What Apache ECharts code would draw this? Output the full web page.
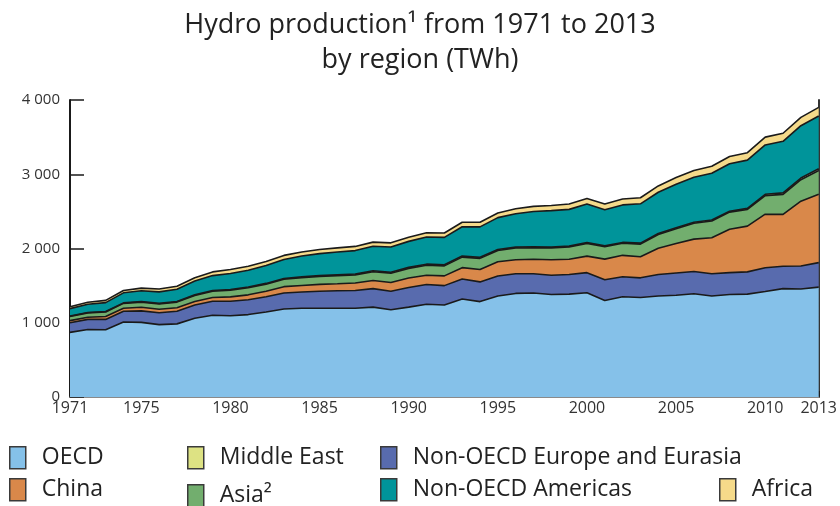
<!DOCTYPE html>
<html>
<head>
<meta charset="utf-8">
<script src="https://cdn.jsdelivr.net/npm/echarts@6/dist/echarts.min.js"></script>
<style>
  html, body { margin: 0; padding: 0; background: #fff; }
  #chart { width: 840px; height: 506px; }
</style>
</head>
<body>
<div id="chart"></div>
<script>
// years on the x axis
const years = [];
for (let y = 1971; y <= 2013; y++) years.push(String(y));
const yearLabels = ['1971', '1975', '1980', '1985', '1990', '1995', '2000', '2005', '2010', '2013'];

// TWh (stack order bottom -> top)
const oecd = [870, 910, 905, 1010, 1005, 975, 985, 1060, 1100, 1095,
  1110, 1145, 1185, 1195, 1195, 1195, 1195, 1210, 1175, 1210,
  1250, 1240, 1320, 1285, 1360, 1395, 1400, 1380, 1385, 1405,
  1300, 1350, 1340, 1360, 1370, 1390, 1360, 1380, 1385, 1420,
  1460, 1455, 1480];
const nonOecdEurope = [130, 135, 140, 145, 155, 160, 170, 180, 190, 195,
  200, 205, 215, 220, 230, 235, 240, 250, 250, 265,
  265, 260, 270, 265, 270, 265, 260, 260, 265, 270,
  280, 270, 265, 290, 300, 300, 300, 295, 300, 320,
  300, 310, 330];
const china = [29, 30, 39, 41, 48, 46, 48, 45, 50, 58,
  66, 74, 86, 87, 92, 95, 100, 109, 118, 127,
  125, 131, 152, 167, 191, 188, 196, 208, 205, 222,
  277, 288, 284, 354, 397, 436, 485, 585, 616, 722,
  699, 872, 920];
const asia = [55, 58, 60, 65, 70, 72, 75, 82, 85, 90,
  95, 95, 100, 105, 108, 110, 110, 118, 125, 130,
  135, 135, 142, 150, 152, 158, 155, 160, 165, 170,
  168, 162, 170, 185, 200, 215, 225, 230, 225, 250,
  270, 290, 320];
const middleEast = [6, 6, 7, 7, 8, 8, 9, 9, 10, 10,
  10, 11, 11, 11, 11, 12, 12, 13, 13, 14,
  14, 14, 14, 14, 13, 13, 13, 12, 12, 12,
  12, 12, 13, 13, 13, 13, 13, 12, 14, 18,
  20, 22, 25];
const nonOecdAmericas = [100, 110, 120, 135, 145, 155, 165, 185, 200, 215,
  225, 240, 255, 280, 295, 305, 315, 330, 340, 350,
  365, 370, 395, 410, 430, 450, 475, 490, 495, 520,
  485, 505, 530, 555, 585, 605, 630, 640, 650, 665,
  695, 705, 710];
const africa = [25, 27, 30, 32, 35, 38, 40, 45, 50, 55,
  55, 55, 55, 55, 56, 56, 56, 56, 55, 55,
  57, 58, 60, 62, 63, 66, 68, 70, 72, 75,
  77, 80, 82, 86, 90, 92, 94, 97, 100, 105,
  108, 112, 115];

const font = '"Open Sans", Lato, sans-serif';

const chart = echarts.init(document.getElementById('chart'));

function layer(name, data, color) {
  return {
    name: name,
    type: 'line',
    stack: 'total',
    data: data,
    color: color,
    symbol: 'none',
    lineStyle: { color: '#1a1a1a', width: 1.6 },
    areaStyle: { color: color, opacity: 1 },
    emphasis: { disabled: true }
  };
}

function leg(name, left, top) {
  return {
    data: [name],
    left: left,
    top: top,
    icon: 'rect',
    itemWidth: 16,
    itemHeight: 22,
    itemGap: 0,
    selectedMode: false,
    padding: 0,
    itemStyle: { borderColor: '#3a3a3a', borderWidth: 1.5 },
    textStyle: { fontFamily: font, fontSize: 23, color: '#222', padding: [0, 0, 0, 11] }
  };
}

let option = {
  animation: false,
  title: {
    text: 'Hydro production¹ from 1971 to 2013\nby region (TWh)',
    left: 'center',
    top: 3,
    textStyle: { fontFamily: font, fontWeight: 'normal', fontSize: 27, lineHeight: 35, color: '#222' }
  },
  grid: { left: 70, right: 21, top: 100, bottom: 109 },
  legend: [
    leg('OECD', 9, 446),
    leg('Middle East', 187, 446),
    leg('Non-OECD Europe and Eurasia', 380, 446),
    leg('China', 9, 478),
    leg('Asia²', 187, 484),
    leg('Non-OECD Americas', 380, 478),
    leg('Africa', 719, 478)
  ],
  xAxis: [{
    type: 'category',
    data: years,
    boundaryGap: false,
    axisLine: { lineStyle: { color: '#1a1a1a', width: 2 } },
    axisTick: { inside: true, length: 6, interval: 0, lineStyle: { color: '#1a1a1a', width: 1.5 } },
    axisLabel: {
      interval: 0,
      margin: 3,
      fontFamily: font,
      fontSize: 16,
      color: '#333',
      formatter: function (v) { return yearLabels.indexOf(v) >= 0 ? v : ''; }
    },
    splitLine: { show: false }
  }, {
    type: 'category',
    data: years,
    position: 'top',
    boundaryGap: false,
    axisLine: { lineStyle: { color: '#8a8a8a', width: 2 } },
    axisTick: { show: false },
    axisLabel: { show: false }
  }],
  yAxis: [{
    type: 'value',
    min: 0,
    max: 4000,
    interval: 1000,
    axisLine: { show: true, lineStyle: { color: '#1a1a1a', width: 2 } },
    axisTick: { show: true, inside: true, length: 14, lineStyle: { color: '#1a1a1a', width: 1.5 } },
    axisLabel: {
      margin: 10,
      fontFamily: font,
      fontSize: 15,
      color: '#333',
      formatter: function (v) { return v >= 1000 ? Math.floor(v / 1000) + ' 000' : String(v); }
    },
    splitLine: { show: false }
  }, {
    type: 'value',
    min: 0,
    max: 4000,
    interval: 1000,
    position: 'right',
    axisLine: { show: true, lineStyle: { color: '#333', width: 2 } },
    axisTick: { show: false },
    axisLabel: { show: false },
    splitLine: { show: false }
  }],
  series: [
    layer('OECD', oecd, '#85c1e9'),
    layer('Non-OECD Europe and Eurasia', nonOecdEurope, '#586bae'),
    layer('China', china, '#d9884a'),
    layer('Asia²', asia, '#72ae6e'),
    layer('Middle East', middleEast, '#dde283'),
    layer('Non-OECD Americas', nonOecdAmericas, '#00949a'),
    layer('Africa', africa, '#f5da8a')
  ]
};

chart.setOption(option);
</script>
</body>
</html>
